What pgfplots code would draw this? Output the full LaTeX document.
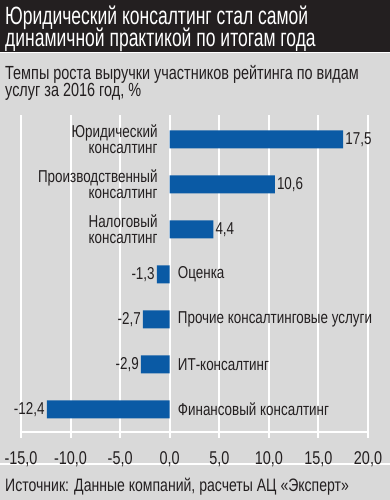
\documentclass[border=0pt]{standalone}
\usepackage{pgfplots}
\pgfplotsset{compat=1.18}
\usepackage{fontspec}
\setmainfont[FakeStretch=0.78]{Liberation Sans}
\newfontfamily\titlefont[FakeStretch=0.70]{Liberation Sans}
\newfontfamily\subfont[FakeStretch=0.76]{Liberation Sans}
\definecolor{bg}{HTML}{D9D9D9}
\definecolor{band}{HTML}{231F20}
\definecolor{barblue}{HTML}{0A5AA5}
\definecolor{txt}{HTML}{231F20}
\newcommand{\lbl}{\fontsize{17.2}{16}\selectfont}
\begin{document}
\begin{tikzpicture}
\path[use as bounding box] (0pt,0pt) rectangle (390pt,500pt);
\fill[bg] (0pt,0pt) rectangle (390pt,500pt);
\fill[band] (0pt,448pt) rectangle (390pt,500pt);
\draw[white, line width=1.5pt] (0pt,447.5pt) -- (390pt,447.5pt);
\draw[white, line width=2pt] (0pt,36pt) -- (390pt,36pt);
\node[anchor=base west, text=white, font=\titlefont\fontsize{25}{25}\selectfont, inner sep=0] at (5pt,475pt) {Юридический консалтинг стал самой};
\node[anchor=base west, text=white, font=\titlefont\fontsize{25}{25}\selectfont, inner sep=0] at (5pt,453pt) {динамичной практикой по итогам года};
\node[anchor=base west, text=txt, font=\subfont\fontsize{19}{19}\selectfont, inner sep=0] at (5pt,420pt) {Темпы роста выручки участников рейтинга по видам};
\node[anchor=base west, text=txt, font=\subfont\fontsize{19}{19}\selectfont, inner sep=0] at (5pt,403pt) {услуг за 2016 год, \%};
\node[anchor=base west, text=txt, font=\fontsize{18}{18}\selectfont, inner sep=0] at (5pt,9pt) {Источник: Данные компаний, расчеты АЦ «Эксперт»};
\begin{axis}[
  at={(21pt,68pt)}, anchor=south west,
  width=347pt, height=317pt, scale only axis,
  xmin=-15, xmax=20, ymin=-0.5, ymax=6.544,
  axis x line=bottom, axis y line=left,
  x axis line style={draw=white, line width=2pt, -},
  y axis line style={draw=none},
  xtick={-15,-10,-5,0,5,10,15,20},
  xticklabels={{-15,0},{-10,0},{-5,0},{0,0},{5,0},{10,0},{15,0},{20,0}},
  xticklabel style={font=\fontsize{18.5}{18.5}\selectfont, text=txt, yshift=-10pt},
  ytick=\empty,
  xmajorgrids=true,
  major grid style={draw=white, line width=2pt},
  major tick style={draw=white, line width=2pt},
  major tick length=6pt, tick align=outside,
  xbar, bar width=18pt, bar shift=0pt,
  clip=false,
  /pgf/number format/fixed,
  /pgf/number format/fixed zerofill,
  /pgf/number format/precision=1,
  /pgf/number format/use comma,
  /pgf/number format/assume math mode=true,
]
\addplot[fill=barblue, draw=none, nodes near coords,
  every node near coord/.append style={anchor=west, text=txt, font=\lbl, inner sep=2pt}]
  coordinates {(17.5,6) (10.6,5) (4.4,4)};
\addplot[fill=barblue, draw=none, nodes near coords,
  every node near coord/.append style={anchor=east, text=txt, font=\lbl, inner sep=2pt}]
  coordinates {(-1.3,3) (-2.7,2) (-2.9,1) (-12.4,0)};
\node[anchor=east, align=right, text=txt, font=\lbl, inner sep=0, xshift=-12pt] at (axis cs:0,6) {Юридический\\консалтинг};
\node[anchor=east, align=right, text=txt, font=\lbl, inner sep=0, xshift=-12pt] at (axis cs:0,5) {Производственный\\консалтинг};
\node[anchor=east, align=right, text=txt, font=\lbl, inner sep=0, xshift=-12pt] at (axis cs:0,4) {Налоговый\\консалтинг};
\node[anchor=west, text=txt, font=\lbl, inner sep=0, xshift=8pt] at (axis cs:0,3) {Оценка};
\node[anchor=west, text=txt, font=\lbl, inner sep=0, xshift=8pt] at (axis cs:0,2) {Прочие консалтинговые услуги};
\node[anchor=west, text=txt, font=\lbl, inner sep=0, xshift=8pt] at (axis cs:0,1) {ИТ-консалтинг};
\node[anchor=west, text=txt, font=\lbl, inner sep=0, xshift=8pt] at (axis cs:0,0) {Финансовый консалтинг};
\end{axis}
\end{tikzpicture}
\end{document}
